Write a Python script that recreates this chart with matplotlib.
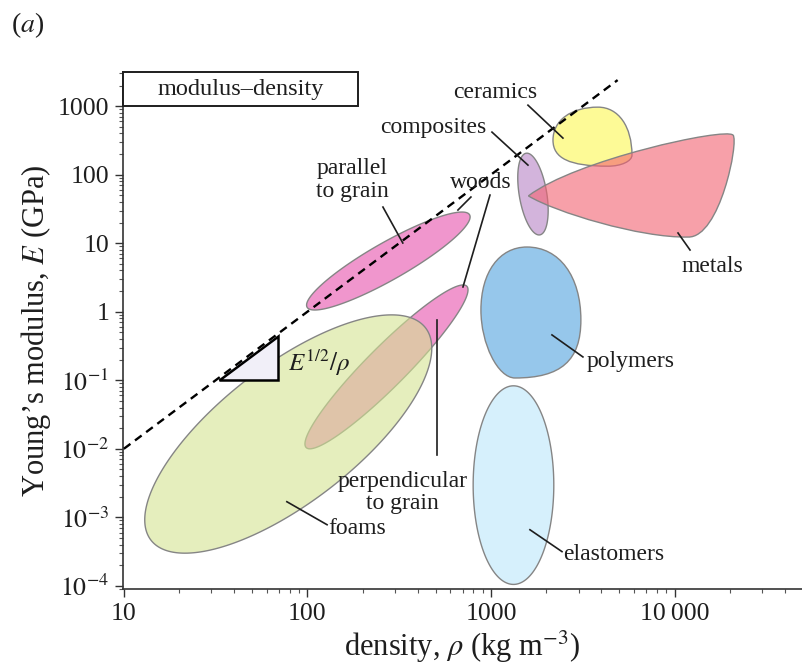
import numpy as np
import matplotlib.pyplot as plt
from matplotlib.colors import to_rgba
from matplotlib.patches import Polygon, PathPatch, Rectangle
from matplotlib.path import Path

plt.rcParams["font.family"] = ["Liberation Serif", "DejaVu Serif"]
plt.rcParams["mathtext.fontset"] = "stix"

# material families: density rho (kg m^-3), Young's modulus E (GPa)
# families drawn as ellipses: rho range, E range and tilt of the bubble (-1..1)
ell_names = ["woods perpendicular", "woods parallel", "foams", "elastomers", "composites"]
ell_rho_lo = [97, 99, 13, 800, 1400]
ell_rho_hi = [750, 770, 476, 2200, 2050]
ell_E_lo = [0.010, 1.06, 3.0e-4, 1.05e-4, 13.2]
ell_E_hi = [2.46, 28.5, 0.90, 0.083, 206]
ell_tilt = [0.94, 0.90, 0.72, 0.0, -0.40]

# families drawn as rounded blobs: extreme points top, right, bottom, left
polymers_rho = [1570, 3090, 1352, 882]
polymers_E = [8.8, 0.76, 0.108, 1.06]
ceramics_rho = [3830, 5865, 4345, 2178]
ceramics_E = [967, 193, 133, 319]

# metals outline, cubic bezier points: tip, top right, bottom right, tip
metals_rho = [1600, 2870, 18850, 20840, 22460, 17700, 11850, 6490, 2234, 1600]
metals_E = [49, 163, 494, 378, 309, 11.9, 12.3, 11.9, 28.5, 49]

# guide line E^(1/2)/rho = const  ->  E = c * rho^2
guide_rho = [10, 4900]
guide_c = 1e-4
slope_rho = [33, 69]
slope_E0 = 0.1

xticks = [10, 100, 1000, 10000]
xtick_labels = ["10", "100", "1000", "10\u2009000"]
yticks = [1e-4, 1e-3, 1e-2, 1e-1, 1, 10, 100, 1000]
ytick_labels = [r"$10^{-4}$", r"$10^{-3}$", r"$10^{-2}$", r"$10^{-1}$", "1", "10", "100", "1000"]

ell_colors = ["#e650ac", "#e650ac", "#d4e392", "#bce6fa", "#b682c5"]
polymers_color = "#50a3de"
ceramics_color = "#fcf750"
metals_color = "#f36171"
ALPHA = 0.6
EDGE = "#858585"
INK = "#1e1e1e"


def ellipse_patch(rlo, rhi, elo, ehi, tilt, color, z):
    cx, hx = (np.log10(rlo) + np.log10(rhi)) / 2, (np.log10(rhi) - np.log10(rlo)) / 2
    cy, hy = (np.log10(elo) + np.log10(ehi)) / 2, (np.log10(ehi) - np.log10(elo)) / 2
    t = np.linspace(0, 2 * np.pi, 300)
    lx = cx + hx * np.cos(t)
    ly = cy + hy * (tilt * np.cos(t) + np.sqrt(1 - tilt**2) * np.sin(t))
    return Polygon(np.column_stack([10**lx, 10**ly]), closed=True, fc=to_rgba(color, ALPHA),
                   ec=EDGE, lw=1.0, zorder=z)


def blob_patch(rho, E, k, color, z):
    x, y = np.log10(rho), np.log10(E)
    verts = [(x[0], y[0])]
    for i in range(4):
        j = (i + 1) % 4
        if i % 2 == 0:  # leave top / bottom horizontally
            c1 = (x[i] + k[i] * (x[j] - x[i]), y[i])
            c2 = (x[j], y[j] + k[i] * (y[i] - y[j]))
        else:  # leave right / left vertically
            c1 = (x[i], y[i] + k[i] * (y[j] - y[i]))
            c2 = (x[j] + k[i] * (x[i] - x[j]), y[j])
        verts += [c1, c2, (x[j], y[j])]
    verts.append((x[0], y[0]))
    codes = [Path.MOVETO] + [Path.CURVE4] * 12 + [Path.CLOSEPOLY]
    path = Path(10 ** np.array(verts), codes)
    return PathPatch(path, fc=to_rgba(color, ALPHA), ec=EDGE, lw=1.0, zorder=z)


fig = plt.figure(figsize=(8.02, 6.71), dpi=100)
ax = fig.add_axes([0.1534, 0.1222, 0.8466, 0.7705])
ax.set_xscale("log")
ax.set_yscale("log")
ax.set_xlim(9.9, 49500)
ax.set_ylim(9e-5, 3150)

for i in range(len(ell_names)):
    ax.add_patch(ellipse_patch(ell_rho_lo[i], ell_rho_hi[i], ell_E_lo[i], ell_E_hi[i],
                               ell_tilt[i], ell_colors[i], 1 + i * 0.1))
ax.add_patch(blob_patch(polymers_rho, polymers_E, [0.6, 0.7, 0.5, 0.6], polymers_color, 1.6))
ax.add_patch(blob_patch(ceramics_rho, ceramics_E, [0.6, 0.55, 0.7, 0.6], ceramics_color, 1.7))

mverts = np.column_stack([metals_rho, metals_E])
mverts = np.vstack([mverts, mverts[:1]])
mcodes = [Path.MOVETO] + [Path.CURVE4] * 9 + [Path.CLOSEPOLY]
ax.add_patch(PathPatch(Path(mverts, mcodes), fc=to_rgba(metals_color, ALPHA), ec=EDGE,
                       lw=1.0, zorder=1.8))

# guide line and slope triangle
g = np.array(guide_rho, dtype=float)
ax.plot(g, guide_c * g**2, color="black", lw=1.7, ls=(0, (3.5, 2.4)), zorder=5)
s = np.array(slope_rho, dtype=float)
tri = [(s[0], slope_E0), (s[1], slope_E0), (s[1], slope_E0 * (s[1] / s[0]) ** 2)]
ax.add_patch(Polygon(tri, closed=True, fc="#f1eff8", ec="black", lw=1.8, zorder=4))
ax.text(78, 0.18, r"$E^{1/2}/\rho$", fontsize=18, ha="left", va="center", color=INK, zorder=6)

# labels with leader lines
labels = [
    ("ceramics", 1052, 1600),
    ("composites", 483, 494),
    ("woods", 882, 78),
    ("parallel\nto grain", 175, 83.4),
    ("metals", 16000, 4.5),
    ("polymers", 5795, 0.185),
    ("elastomers", 4680, 2.85e-4),
    ("perpendicular\nto grain", 331, 2.29e-3),
    ("foams", 186, 6.8e-4),
]
for txt, lr, le in labels:
    ax.text(lr, le, txt, fontsize=17, ha="center", va="center", color=INK,
            linespacing=1.1, zorder=6)

leaders = [
    ((1591, 1034), (2467, 342)),
    ((1013, 418), (1591, 138)),
    ((778, 47.2), (661, 30.5)),
    ((988, 50.4), (704, 2.30)),
    ((258, 33.7), (331, 10.07)),
    ((10450, 14.1), (12150, 7.96)),
    ((2150, 0.459), (3170, 0.219)),
    ((1631, 6.59e-4), (2438, 3.16e-4)),
    ((508, 0.76), (508, 8.2e-3)),
    ((77.3, 1.69e-3), (128, 7.8e-4)),
]
for a, b in leaders:
    ax.plot([a[0], b[0]], [a[1], b[1]], color=INK, lw=1.2, zorder=6)

# title box
ax.add_patch(Rectangle((0, 0.934), 0.3457, 0.066, transform=ax.transAxes, fc="white",
                       ec=INK, lw=1.4, zorder=7, clip_on=False))
ax.text(0.173, 0.966, "modulus\u2013density", transform=ax.transAxes, fontsize=17.5,
        ha="center", va="center", color=INK, zorder=8)

ax.set_xticks(xticks)
ax.set_xticklabels(xtick_labels)
ax.set_yticks(yticks)
ax.set_yticklabels(ytick_labels)
ax.tick_params(which="major", direction="out", length=6, width=1.0, labelsize=18.5, pad=4,
               colors="#333333", labelcolor=INK)
ax.tick_params(which="minor", direction="out", length=3, width=0.8, colors="#555555")
for side in ["top", "right"]:
    ax.spines[side].set_visible(False)
for side in ["left", "bottom"]:
    ax.spines[side].set_linewidth(1.2)
    ax.spines[side].set_color("#333333")

ax.set_xlabel(r"density, $\rho$ (kg m$^{-3}$)", fontsize=22, color=INK, labelpad=3)
ax.set_ylabel(r"Young’s modulus, $E$ (GPa)", fontsize=22, color=INK, labelpad=3)

fig.text(0.014, 0.962, r"($a$)", fontsize=20, ha="left", va="center", color=INK)

fig.savefig("out.png", dpi=100)
